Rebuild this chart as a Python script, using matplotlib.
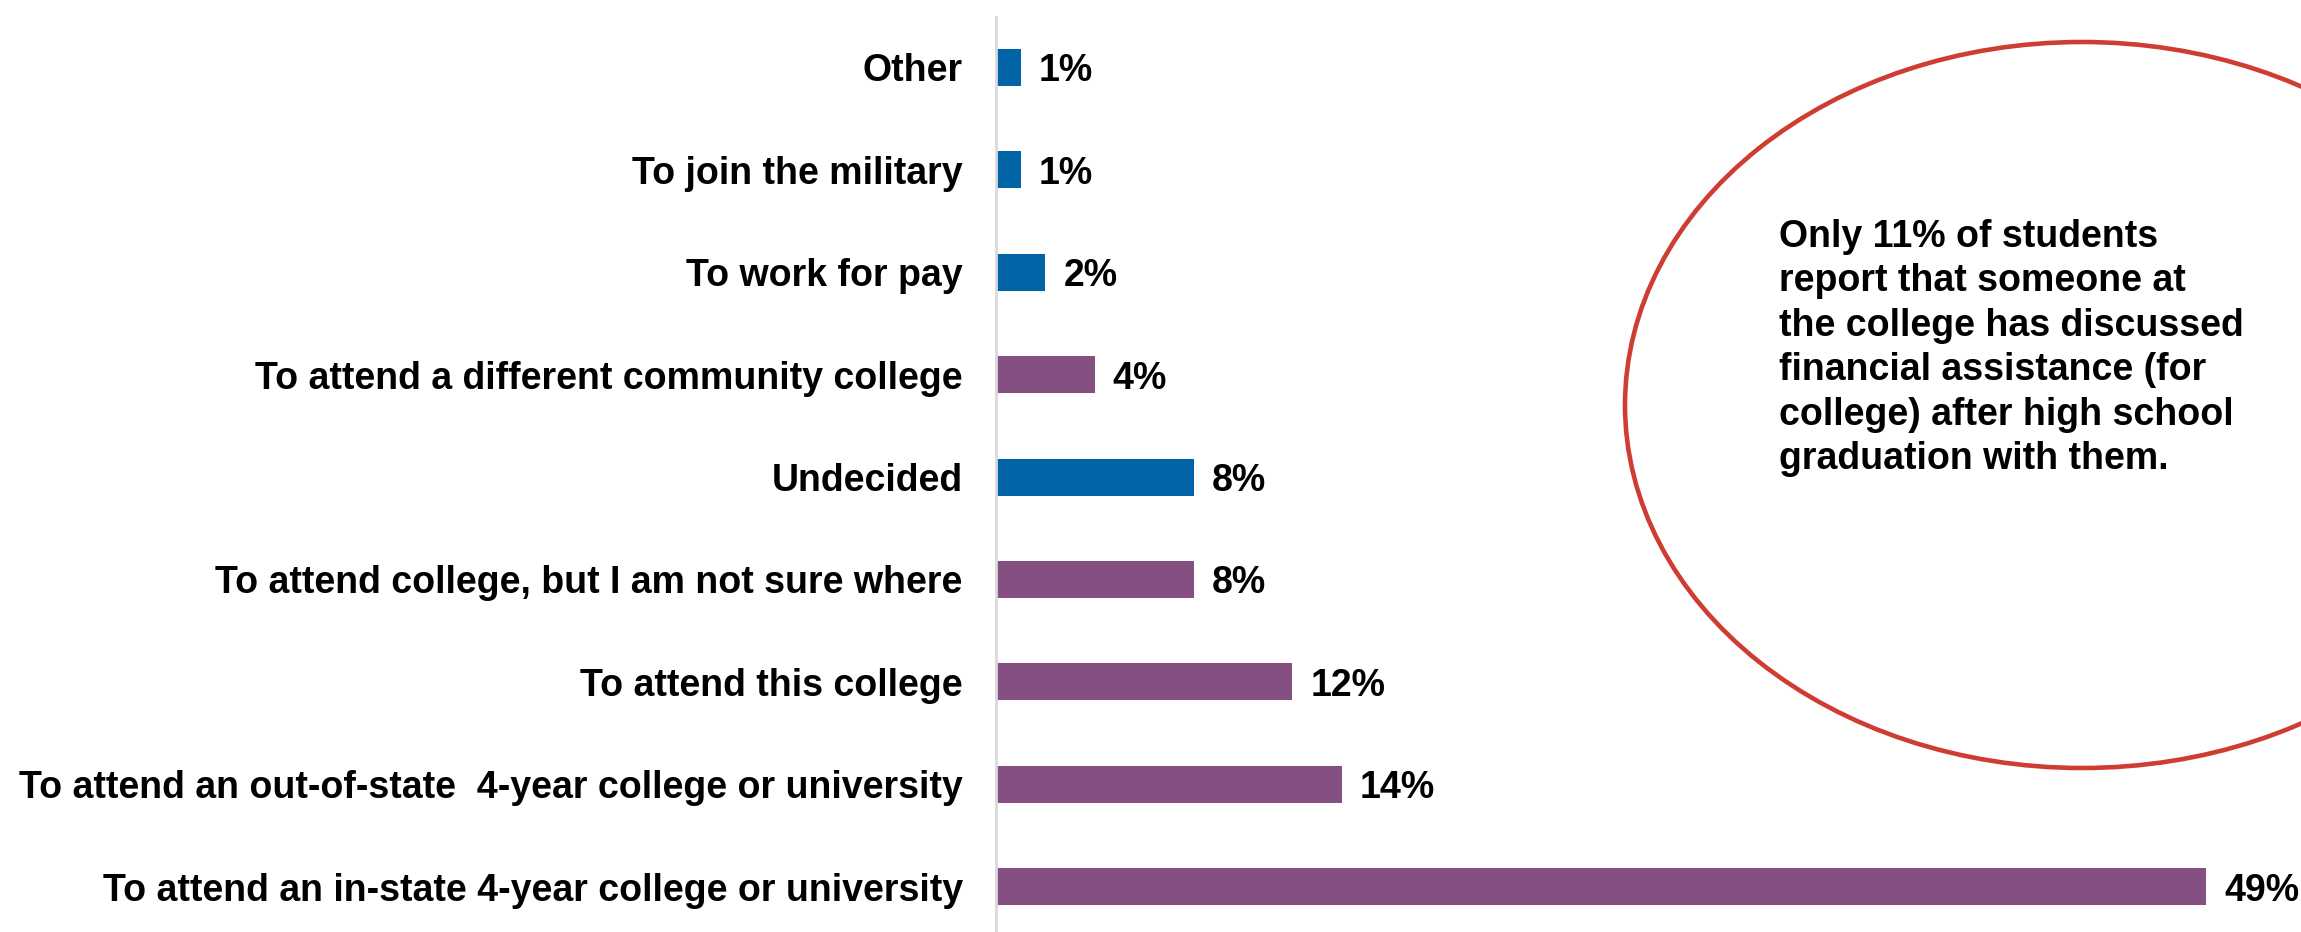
import matplotlib
matplotlib.use('Agg')
import matplotlib.pyplot as plt
from matplotlib.patches import Ellipse

plt.rcParams['font.family'] = ['Liberation Sans', 'DejaVu Sans']

# Data (top to bottom as in the chart)
categories = [
    'Other',
    'To join the military',
    'To work for pay',
    'To attend a different community college',
    'Undecided',
    'To attend college, but I am not sure where',
    'To attend this college',
    'To attend an out-of-state  4-year college or university',
    'To attend an in-state 4-year college or university',
]
values = [1, 1, 2, 4, 8, 8, 12, 14, 49]
groups = ['blue', 'blue', 'blue', 'purple', 'blue', 'purple', 'purple', 'purple', 'purple']

colors = {'blue': '#0064A6', 'purple': '#864F81'}
note = ('Only 11% of students\nreport that someone at\nthe college has discussed\n'
        'financial assistance (for\ncollege) after high school\ngraduation with them.')

W, H = 2301, 932
fig = plt.figure(figsize=(W / 100, H / 100), dpi=100)

# axes placement in pixels
x0 = 996
top = 17
ax = fig.add_axes([x0 / W, 0, 1 - x0 / W, 1 - top / H])

n = len(categories)
ypos = list(range(n - 1, -1, -1))
ax.barh(ypos, values, height=0.36, color=[colors[g] for g in groups])

for y, v in zip(ypos, values):
    ax.annotate(f'{v}%', (v, y), xytext=(13, 0), textcoords='offset points',
                va='center_baseline', ha='left', fontsize=27, fontweight='bold')

ax.set_yticks(ypos)
ax.set_yticklabels(categories, fontsize=27, fontweight='bold')
ax.tick_params(axis='y', length=0, pad=24)
ax.set_xticks([])
ax.set_xlim(0, (W - x0) / 24.7)
ax.set_ylim(8.493 - 915 / 102.4, 8.493)

for s in ['top', 'right', 'bottom']:
    ax.spines[s].set_visible(False)
ax.spines['left'].set_color('#D9D9D9')
ax.spines['left'].set_linewidth(2)

# callout ellipse
ell = Ellipse((2082 / W, 1 - 405 / H), 914 / W, 726 / H, transform=fig.transFigure,
              fill=False, edgecolor='#CF3D32', linewidth=3.3)
fig.patches.append(ell)

fig.text(1779 / W, 1 - 219 / H, note, fontsize=27, fontweight='bold',
         ha='left', va='top', linespacing=1.3)

fig.savefig('out.png', dpi=100)
